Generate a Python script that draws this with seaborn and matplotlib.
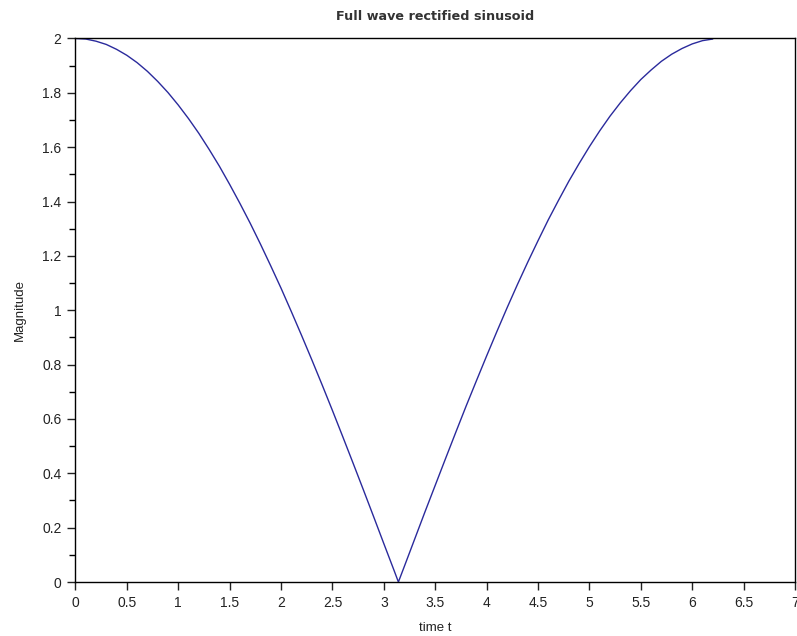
import matplotlib
matplotlib.use("Agg")
import matplotlib.pyplot as plt
from matplotlib.ticker import MultipleLocator
import seaborn as sns
import pandas as pd

# time samples and rectified magnitude
time_t = [0.0, 0.1, 0.2, 0.3, 0.4, 0.5, 0.6, 0.7, 0.8, 0.9,
          1.0, 1.1, 1.2, 1.3, 1.4, 1.5, 1.6, 1.7, 1.8, 1.9,
          2.0, 2.1, 2.2, 2.3, 2.4, 2.5, 2.6, 2.7, 2.8, 2.9,
          3.0, 3.1, 3.1416, 3.2, 3.3, 3.4, 3.5, 3.6, 3.7, 3.8, 3.9,
          4.0, 4.1, 4.2, 4.3, 4.4, 4.5, 4.6, 4.7, 4.8, 4.9,
          5.0, 5.1, 5.2, 5.3, 5.4, 5.5, 5.6, 5.7, 5.8, 5.9,
          6.0, 6.1, 6.2]
magnitude = [2.000, 1.998, 1.990, 1.978, 1.960, 1.938, 1.911, 1.879, 1.842, 1.801,
             1.755, 1.705, 1.651, 1.592, 1.530, 1.463, 1.393, 1.320, 1.243, 1.163,
             1.081, 0.995, 0.907, 0.817, 0.725, 0.631, 0.535, 0.438, 0.340, 0.241,
             0.141, 0.042, 0.000, 0.058, 0.158, 0.258, 0.356, 0.454, 0.551, 0.647, 0.740,
             0.832, 0.922, 1.010, 1.095, 1.177, 1.256, 1.333, 1.405, 1.475, 1.540,
             1.602, 1.660, 1.714, 1.763, 1.808, 1.849, 1.884, 1.916, 1.942, 1.963,
             1.980, 1.992, 1.998]

x_ticks = [0, 0.5, 1, 1.5, 2, 2.5, 3, 3.5, 4, 4.5, 5, 5.5, 6, 6.5, 7]
x_tick_labels = ["0", "0.5", "1", "1.5", "2", "2.5", "3", "3.5", "4", "4.5",
                 "5", "5.5", "6", "6.5", "7"]
y_ticks = [0, 0.2, 0.4, 0.6, 0.8, 1, 1.2, 1.4, 1.6, 1.8, 2]
y_tick_labels = ["0", "0.2", "0.4", "0.6", "0.8", "1", "1.2", "1.4", "1.6", "1.8", "2"]

df = pd.DataFrame({"t": time_t, "mag": magnitude})

sns.set_theme(style="ticks")
plt.rcParams["font.family"] = ["Liberation Sans", "DejaVu Sans"]

fig = plt.figure(figsize=(7.97, 6.36), dpi=100)
ax = fig.add_axes([0.0947, 0.0849, 0.9028, 0.8546])

sns.lineplot(data=df, x="t", y="mag", ax=ax, color="#2a2a9c", linewidth=1.0,
             sort=False, estimator=None)

ax.set_xlim(0, 7)
ax.set_ylim(0, 2)
ax.set_xticks(x_ticks)
ax.set_xticklabels(x_tick_labels)
ax.set_yticks(y_ticks)
ax.set_yticklabels(y_tick_labels)
ax.yaxis.set_minor_locator(MultipleLocator(0.1))

for side in ["top", "right", "left", "bottom"]:
    ax.spines[side].set_visible(True)
    ax.spines[side].set_color("black")
    ax.spines[side].set_linewidth(1.0)

ax.tick_params(axis="both", which="major", direction="out", length=6, width=1,
               colors="#222222", labelsize=10, pad=4)
ax.tick_params(axis="y", which="minor", direction="out", length=4, width=1,
               colors="black")
ax.tick_params(top=False, right=False, which="both")

ax.set_xlabel("time t", fontsize=9.5, labelpad=9, color="#222222")
ax.set_ylabel("Magnitude", fontsize=9.5, labelpad=12, color="#222222")
ax.set_title("Full wave rectified sinusoid", fontsize=9.2, pad=13,
             family="DejaVu Sans", fontweight="bold", color="#333333")

fig.savefig("out.png", dpi=100)
